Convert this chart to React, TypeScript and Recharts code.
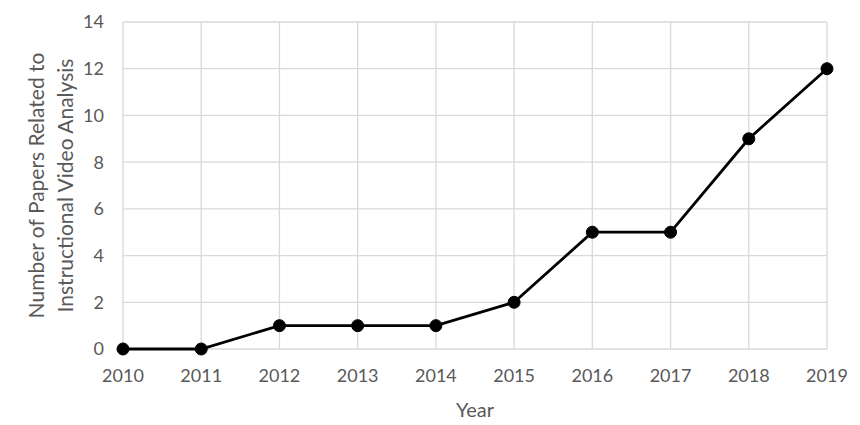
import { LineChart, Line, XAxis, YAxis, CartesianGrid, Label } from 'recharts';

const years = ['2010', '2011', '2012', '2013', '2014', '2015', '2016', '2017', '2018', '2019'];
const papers = [0, 0, 1, 1, 1, 2, 5, 5, 9, 12];
const yTicks = [0, 2, 4, 6, 8, 10, 12, 14];
const yLabelLines = ['Number of Papers Related to', 'Instructional Video Analysis'];

const data = years.map((year, i) => ({ year, papers: papers[i] }));

const FONT = 'Lato, "Open Sans", sans-serif';
const TEXT = '#595959';

function YLabel({ viewBox }: { viewBox?: { x: number; y: number; width: number; height: number } }) {
  if (!viewBox) return null;
  const cy = viewBox.y + viewBox.height / 2;
  const xs = [35, 64];
  return (
    <g>
      {yLabelLines.map((line, i) => (
        <text
          key={line}
          x={xs[i]}
          y={cy}
          transform={`rotate(-90, ${xs[i]}, ${cy})`}
          textAnchor="middle"
          dominantBaseline="central"
          fill={TEXT}
          fontSize={21}
          fontFamily={FONT}
        >
          {line}
        </text>
      ))}
    </g>
  );
}

export default function App() {
  return (
    <div style={{ position: 'absolute', left: 0, top: 0, background: '#fff' }}>
      <LineChart width={860} height={425} data={data} margin={{ top: 22, right: 33, left: 0, bottom: 0 }}>
        <CartesianGrid stroke="#d9d9d9" strokeWidth={1.3} />
        <XAxis
          dataKey="year"
          height={76}
          axisLine={false}
          tickLine={false}
          tickSize={0}
          tickMargin={20}
          tick={{ fill: TEXT, fontSize: 18, fontFamily: FONT }}
          interval={0}
        >
          <Label value="Year" position="insideBottom" offset={8} fill={TEXT} fontSize={20} fontFamily={FONT} />
        </XAxis>
        <YAxis
          width={123}
          domain={[0, 14]}
          ticks={yTicks}
          axisLine={false}
          tickLine={false}
          tickSize={0}
          tickMargin={19}
          tick={{ fill: TEXT, fontSize: 18, fontFamily: FONT }}
          label={<YLabel />}
        />
        <Line
          type="linear"
          dataKey="papers"
          stroke="#000"
          strokeWidth={2.8}
          dot={{ r: 6, fill: '#000', stroke: '#000', strokeWidth: 1 }}
          isAnimationActive={false}
        />
      </LineChart>
    </div>
  );
}
